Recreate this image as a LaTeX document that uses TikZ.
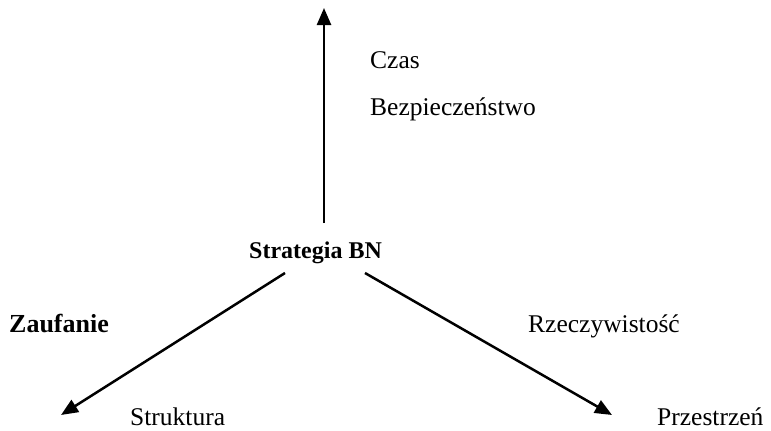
\documentclass[tikz,border=0pt]{standalone}
\usepackage{fontspec}
\setmainfont{Liberation Serif}
\usetikzlibrary{arrows.meta}
\tikzset{
  lbl/.style={anchor=base west,inner sep=0pt,font=\fontsize{25.5}{30}\selectfont},
  blbl/.style={anchor=base west,inner sep=0pt,font=\fontsize{26}{30}\selectfont\bfseries},
  arr/.style={line width=2.5pt,-{Triangle[length=17pt,width=14pt]}}
}
\begin{document}
\begin{tikzpicture}[x=1pt,y=-1pt]
\useasboundingbox (0,0) rectangle (771,431);
\node[blbl,font=\fontsize{24}{28}\selectfont\bfseries] (strat) at (249,258) {Strategia BN};
\node[lbl] (czas) at (370,68) {Czas};
\node[lbl] (bezp) at (370,115) {Bezpieczeństwo};
\node[blbl] (zauf) at (9,332) {Zaufanie};
\node[lbl] (rzecz) at (528,332) {Rzeczywistość};
\node[lbl] (strukt) at (130,425) {Struktura};
\node[lbl] (przes) at (657,425) {Przestrzeń};
\coordinate (up0) at (324,223);
\coordinate (up1) at (324,8);
\coordinate (l0) at (285,273);
\coordinate (l1) at (61,415);
\coordinate (r0) at (365,273);
\coordinate (r1) at (612,415);
\draw[arr] (up0) -- (up1);
\draw[arr] (l0) -- (l1);
\draw[arr] (r0) -- (r1);
\end{tikzpicture}
\end{document}
